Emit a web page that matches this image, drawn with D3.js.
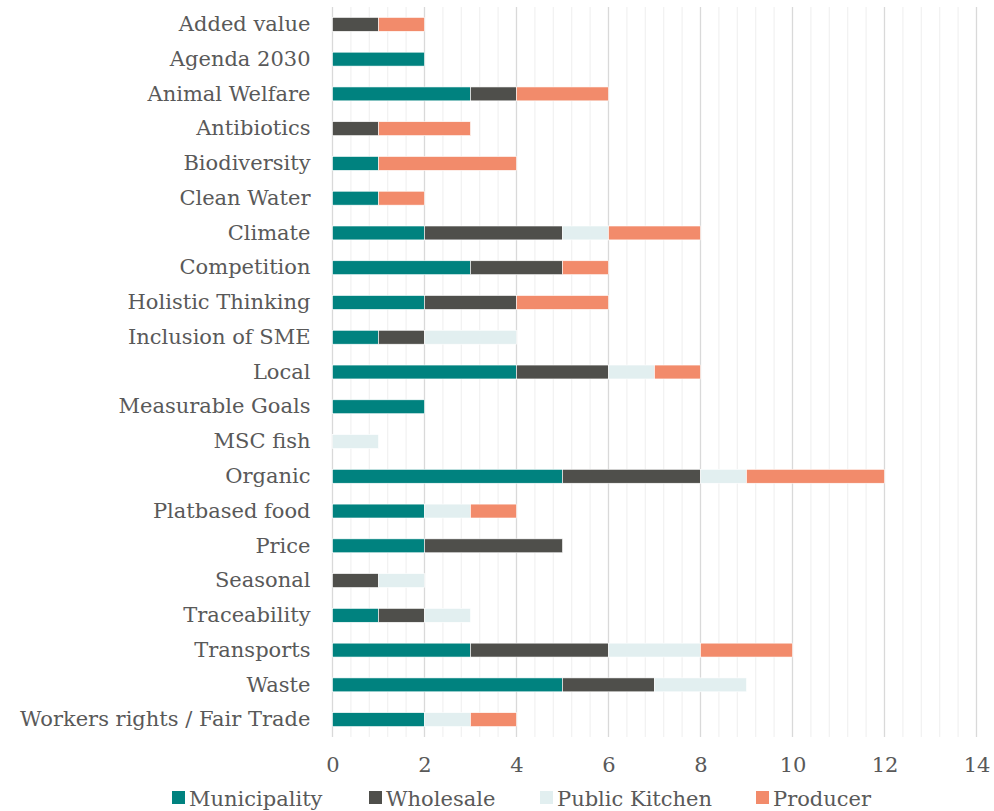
<!DOCTYPE html>
<html>
<head>
<meta charset="utf-8">
<script src="https://cdn.jsdelivr.net/npm/d3@7"></script>
<style>
  body { margin: 0; background: #fff; }
  text { font-family: "DejaVu Serif", "Liberation Serif", serif; fill: #595959; }
</style>
</head>
<body>
<div id="chart"></div>
<script>
var categories = ['Added value', 'Agenda 2030', 'Animal Welfare', 'Antibiotics', 'Biodiversity',
  'Clean Water', 'Climate', 'Competition', 'Holistic Thinking', 'Inclusion of SME', 'Local',
  'Measurable Goals', 'MSC fish', 'Organic', 'Platbased food', 'Price', 'Seasonal',
  'Traceability', 'Transports', 'Waste', 'Workers rights / Fair Trade'];
var seriesNames = ['Municipality', 'Wholesale', 'Public Kitchen', 'Producer'];
var municipality = [0, 2, 3, 0, 1, 1, 2, 3, 2, 1, 4, 2, 0, 5, 2, 2, 0, 1, 3, 5, 2];
var wholesale    = [1, 0, 1, 1, 0, 0, 3, 2, 2, 1, 2, 0, 0, 3, 0, 3, 1, 1, 3, 2, 0];
var publicKitchen = [0, 0, 0, 0, 0, 0, 1, 0, 0, 2, 1, 0, 1, 1, 1, 0, 1, 1, 2, 2, 1];
var producer     = [1, 0, 2, 2, 3, 1, 2, 1, 2, 0, 1, 0, 0, 3, 1, 0, 0, 0, 2, 0, 1];
var xTicks = [0, 2, 4, 6, 8, 10, 12, 14];
var colors = ['#00827f', '#4f4f4b', '#e2eff0', '#f28b6b'];

var margin = {top: 7, right: 18, bottom: 74, left: 332.5};
var width = 994 - margin.left - margin.right;
var height = 811 - margin.top - margin.bottom;

var rows = categories.map(function(c, i) {
  return {cat: c, 'Municipality': municipality[i], 'Wholesale': wholesale[i],
    'Public Kitchen': publicKitchen[i], 'Producer': producer[i]};
});
var stacked = d3.stack().keys(seriesNames)(rows);

var x = d3.scaleLinear().domain([0, 14]).range([0, 644]);
var y = d3.scaleBand().domain(categories).range([0, height]).paddingInner(0.6).paddingOuter(0.3);

var svg = d3.select('#chart').append('svg')
  .attr('width', 994)
  .attr('height', 811)
  .append('g')
  .attr('transform', 'translate(' + margin.left + ',' + margin.top + ')');

// minor gridlines
svg.append('g')
  .selectAll('line')
  .data(d3.range(0.4, 14, 0.4).filter(function(v) { return Math.abs(v / 2 - Math.round(v / 2)) > 0.01; }))
  .enter().append('line')
  .attr('x1', function(d) { return x(d); })
  .attr('x2', function(d) { return x(d); })
  .attr('y1', 0).attr('y2', height)
  .attr('stroke', '#f2f2f2').attr('stroke-width', 1.3);

// major gridlines
svg.append('g')
  .selectAll('line')
  .data(xTicks.slice(1))
  .enter().append('line')
  .attr('x1', function(d) { return x(d); })
  .attr('x2', function(d) { return x(d); })
  .attr('y1', 0).attr('y2', height)
  .attr('stroke', '#d9d9d9').attr('stroke-width', 1.3);

svg.append('line')
  .attr('x1', 0).attr('x2', 0).attr('y1', 0).attr('y2', height)
  .attr('stroke', '#d9d9d9').attr('stroke-width', 1.3);

svg.append('g')
  .selectAll('g')
  .data(stacked)
  .enter().append('g')
  .attr('fill', function(d, i) { return colors[i]; })
  .selectAll('rect')
  .data(function(d) { return d; })
  .enter().append('rect')
  .attr('x', function(d) { return x(d[0]); })
  .attr('y', function(d) { return y(d.data.cat); })
  .attr('width', function(d) { return x(d[1]) - x(d[0]); })
  .attr('height', y.bandwidth())
  .attr('stroke', '#fff')
  .attr('stroke-width', function(d) { return d[1] > d[0] ? 0.6 : 0; });

var yAxis = d3.axisLeft(y).tickSize(0).tickPadding(22);
svg.append('g')
  .attr('class', 'y axis')
  .call(yAxis)
  .call(function(g) { g.select('.domain').remove(); })
  .selectAll('text')
  .style('font-size', '21px')
  .style('fill', '#595959');

var xAxis = d3.axisBottom(x).tickValues(xTicks).tickSize(0).tickPadding(20);
svg.append('g')
  .attr('class', 'x axis')
  .attr('transform', 'translate(0,' + height + ')')
  .call(xAxis)
  .call(function(g) { g.select('.domain').remove(); })
  .selectAll('text')
  .style('font-size', '21px')
  .style('fill', '#595959');

var legendX = [172, 369, 540, 756];
var legend = d3.select('svg').append('g').attr('class', 'legend');
seriesNames.forEach(function(name, i) {
  legend.append('rect')
    .attr('x', legendX[i]).attr('y', 791)
    .attr('width', 13).attr('height', 13)
    .attr('fill', colors[i]);
  legend.append('text')
    .attr('x', legendX[i] + 17).attr('y', 806)
    .style('font-size', '21px')
    .text(name);
});
</script>
</body>
</html>
